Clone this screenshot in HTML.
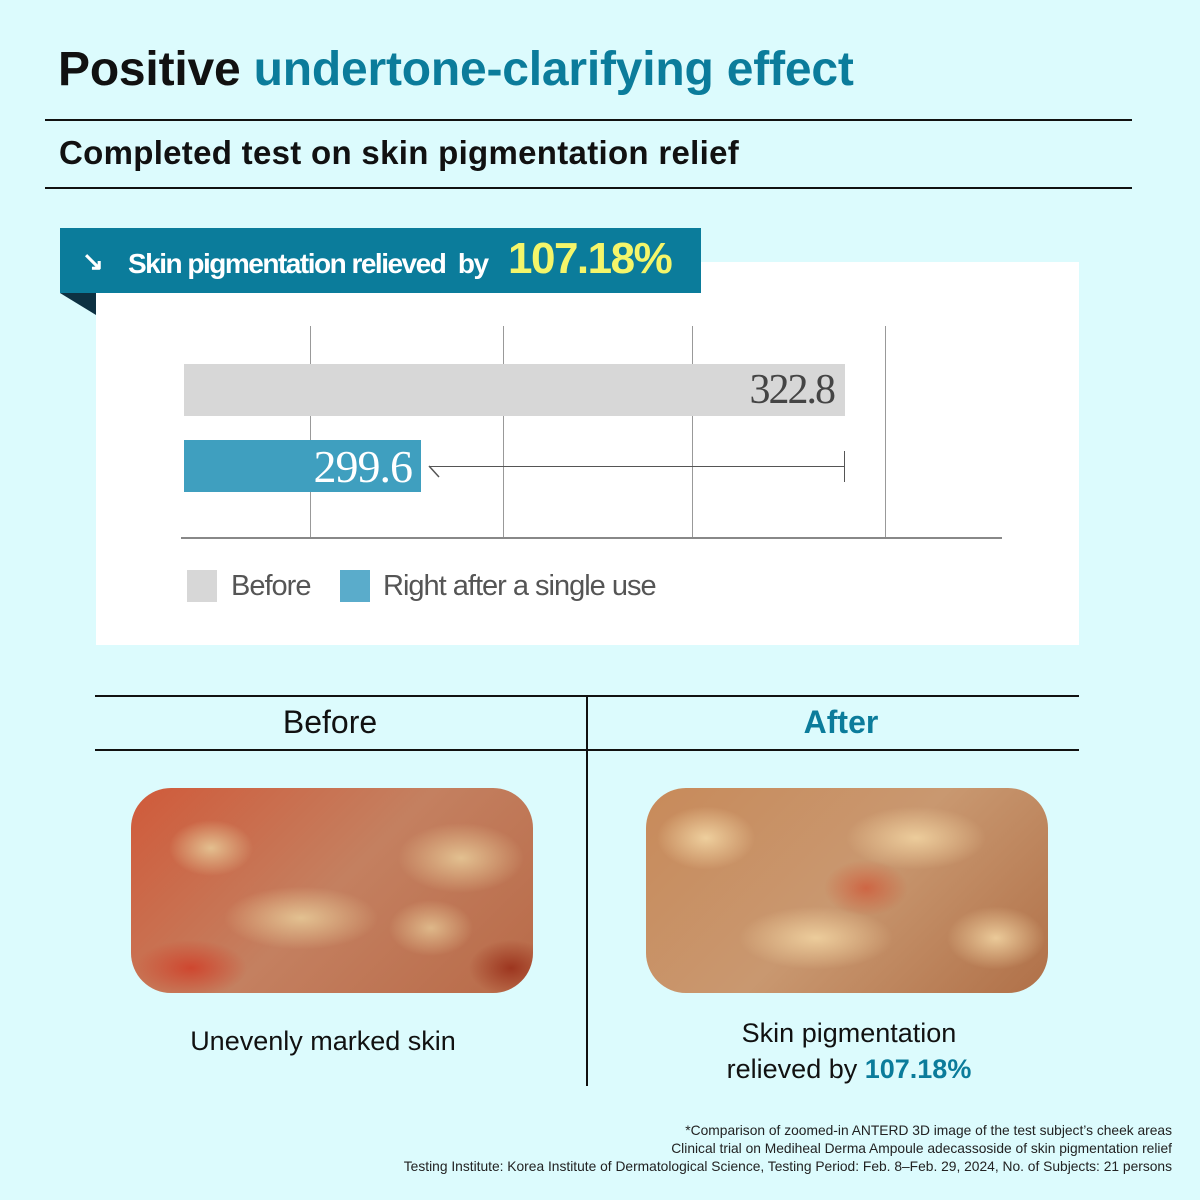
<!DOCTYPE html>
<html><head><meta charset="utf-8"><style>
*{margin:0;padding:0;box-sizing:border-box}
body{width:1200px;height:1200px;background:#dcfbfd;position:relative;overflow:hidden;font-family:"Liberation Sans",sans-serif;color:#111}
.a{position:absolute}
.teal{color:#0b7c9b}
.img{border-radius:40px;overflow:hidden}
</style></head><body>
<div class="a" style="left:58px;top:42px;font-size:48px;font-weight:bold;letter-spacing:-0.2px">Positive <span class="teal">undertone-clarifying effect</span></div>
<div class="a" style="left:45px;top:119px;width:1087px;height:2px;background:#111"></div>
<div class="a" style="left:59px;top:134px;font-size:33px;font-weight:bold;letter-spacing:0.3px">Completed test on skin pigmentation relief</div>
<div class="a" style="left:45px;top:187px;width:1087px;height:2px;background:#111"></div>

<div class="a" style="left:96px;top:262px;width:983px;height:383px;background:#fff"></div>
<svg class="a" style="left:60px;top:293px" width="36" height="22"><polygon points="0,0 36,0 36,22" fill="#0d3142"/></svg>
<div class="a" style="left:60px;top:228px;width:641px;height:65px;background:#0b7c9b"></div>
<div class="a" style="left:82px;top:246px;color:#fff;font-size:26px;font-weight:bold">&#8600;</div>
<div class="a" style="left:128px;top:248px;color:#fff;font-size:28px;font-weight:bold;letter-spacing:-1.5px">Skin pigmentation relieved&nbsp; by</div>
<div class="a" style="left:508px;top:234px;color:#f4f56a;font-size:44px;font-weight:bold;letter-spacing:-1.5px">107.18%</div>

<div class="a" style="left:310px;top:326px;width:1px;height:212px;background:#999"></div>
<div class="a" style="left:503px;top:326px;width:1px;height:212px;background:#999"></div>
<div class="a" style="left:692px;top:326px;width:1px;height:212px;background:#999"></div>
<div class="a" style="left:885px;top:326px;width:1px;height:212px;background:#999"></div>
<div class="a" style="left:181px;top:537px;width:821px;height:2px;background:#888"></div>
<div class="a" style="left:184px;top:364px;width:661px;height:52px;background:#d7d7d7"></div>
<div class="a" style="left:640px;top:366px;width:194px;text-align:right;font-family:'Liberation Serif',serif;font-size:42px;color:#444;letter-spacing:-2px">322.8</div>
<div class="a" style="left:184px;top:440px;width:237px;height:52px;background:#3f9fbf"></div>
<div class="a" style="left:200px;top:440px;width:212px;text-align:right;font-family:'Liberation Serif',serif;font-size:46px;color:#fff;letter-spacing:-1px">299.6</div>
<div class="a" style="left:430px;top:466px;width:415px;height:1px;background:#555"></div>
<div class="a" style="left:844px;top:451px;width:1px;height:31px;background:#555"></div>
<svg class="a" style="left:428px;top:460px" width="14" height="20"><line x1="1" y1="6" x2="11" y2="17" stroke="#555" stroke-width="1.5"/></svg>

<div class="a" style="left:187px;top:570px;width:30px;height:32px;background:#d7d7d7"></div>
<div class="a" style="left:231px;top:570px;font-size:29px;color:#555;letter-spacing:-1px">Before</div>
<div class="a" style="left:340px;top:570px;width:30px;height:32px;background:#5aaccb"></div>
<div class="a" style="left:383px;top:570px;font-size:29px;color:#555;letter-spacing:-1px">Right after a single use</div>

<div class="a" style="left:95px;top:695px;width:984px;height:2px;background:#111"></div>
<div class="a" style="left:95px;top:749px;width:984px;height:2px;background:#111"></div>
<div class="a" style="left:586px;top:696px;width:2px;height:390px;background:#111"></div>
<div class="a" style="left:95px;top:704px;width:470px;text-align:center;font-size:32px">Before</div>
<div class="a" style="left:606px;top:704px;width:470px;text-align:center;font-size:32px;font-weight:bold" ><span class="teal">After</span></div>

<div class="a img" style="left:131px;top:788px;width:402px;height:205px;background:
radial-gradient(ellipse 60px 40px at 80px 60px,rgba(230,200,150,.9),transparent 70%),
radial-gradient(ellipse 90px 50px at 330px 70px,rgba(230,200,150,.9),transparent 70%),
radial-gradient(ellipse 110px 45px at 170px 130px,rgba(230,200,150,.9),transparent 70%),
radial-gradient(ellipse 60px 40px at 300px 140px,rgba(230,200,150,.8),transparent 70%),
radial-gradient(ellipse 80px 40px at 60px 180px,rgba(210,50,30,.7),transparent 70%),
radial-gradient(ellipse 60px 40px at 380px 180px,rgba(150,40,20,.8),transparent 70%),
linear-gradient(135deg,#d05a3a,#c48060 50%,#b86a48)"></div>
<div class="a img" style="left:646px;top:788px;width:402px;height:205px;background:
radial-gradient(ellipse 70px 45px at 60px 50px,rgba(240,210,160,.95),transparent 70%),
radial-gradient(ellipse 100px 45px at 270px 50px,rgba(240,210,160,.9),transparent 70%),
radial-gradient(ellipse 110px 45px at 170px 150px,rgba(240,210,160,.9),transparent 70%),
radial-gradient(ellipse 70px 45px at 350px 150px,rgba(240,210,160,.9),transparent 70%),
radial-gradient(ellipse 60px 40px at 220px 100px,rgba(210,70,40,.6),transparent 70%),
linear-gradient(135deg,#c88a5a,#c99870 50%,#b07048)"></div>

<div class="a" style="left:95px;top:1026px;width:456px;text-align:center;font-size:27px">Unevenly marked skin</div>
<div class="a" style="left:620px;top:1015px;width:458px;text-align:center;font-size:27px;line-height:36px">Skin pigmentation<br>relieved by <b class="teal">107.18%</b></div>

<div class="a" style="right:28px;top:1122px;text-align:right;font-size:13.8px;line-height:18px;color:#222">*Comparison of zoomed-in ANTERD 3D image of the test subject’s cheek areas<br>Clinical trial on Mediheal Derma Ampoule adecassoside of skin pigmentation relief<br>Testing Institute: Korea Institute of Dermatological Science, Testing Period: Feb. 8–Feb. 29, 2024, No. of Subjects: 21 persons</div>
</body></html>
